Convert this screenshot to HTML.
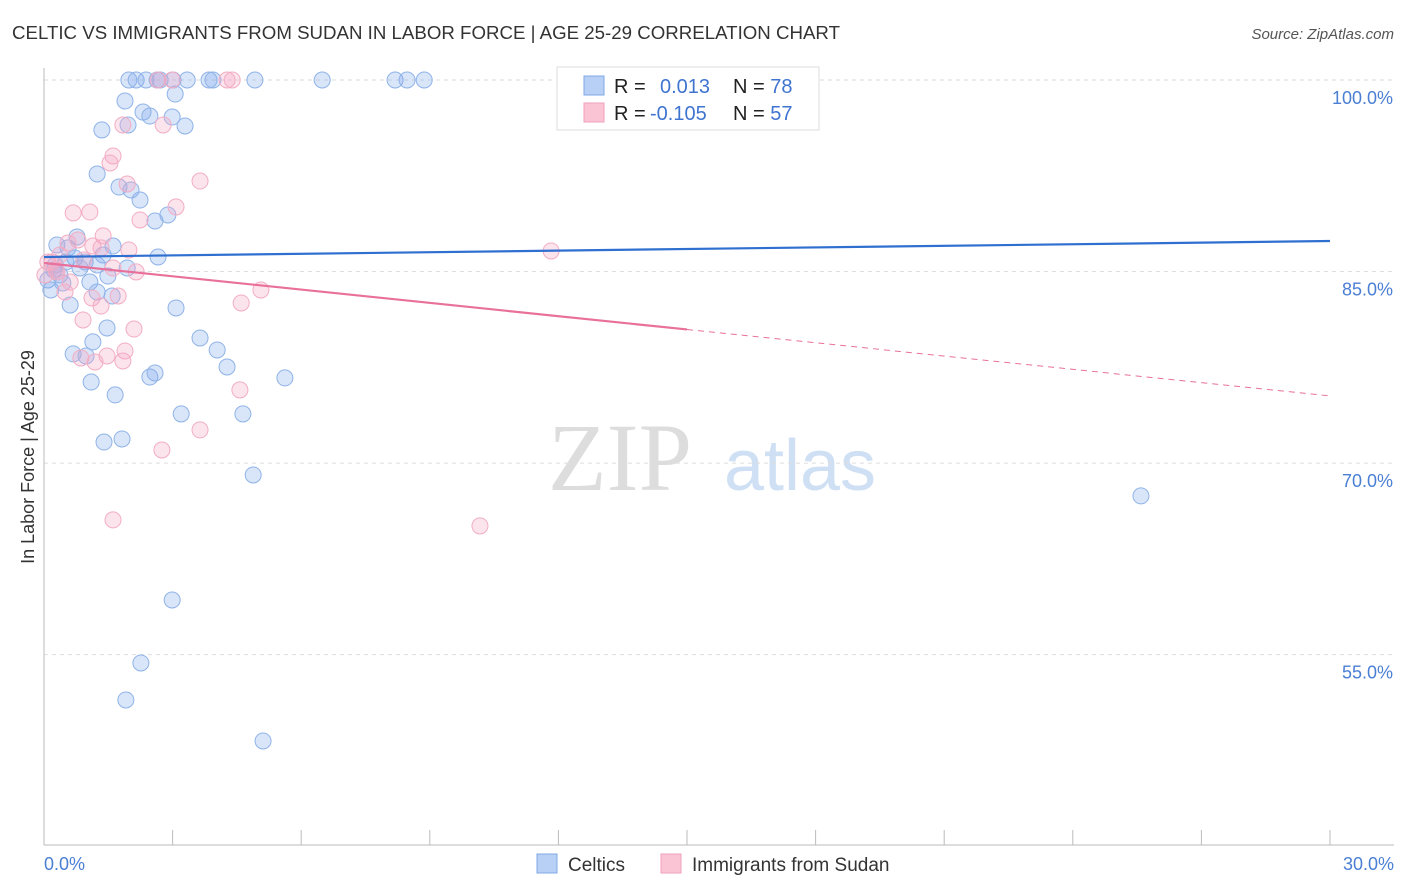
<!DOCTYPE html>
<html><head><meta charset="utf-8"><style>
body{margin:0;background:#fff;font-family:"Liberation Sans",sans-serif;}
svg{display:block}
</style></head><body>
<svg id="chart" width="1406" height="892" xmlns="http://www.w3.org/2000/svg">
<text x="12" y="39" font-size="18" fill="#333" textLength="828" lengthAdjust="spacingAndGlyphs">CELTIC VS IMMIGRANTS FROM SUDAN IN LABOR FORCE | AGE 25-29 CORRELATION CHART</text>
<text x="1394" y="39" font-size="15" fill="#555" font-style="italic" text-anchor="end">Source: ZipAtlas.com</text>
<text x="620" y="490" font-size="96" fill="#ddd" font-family="Liberation Serif" text-anchor="middle">ZIP</text>
<text x="800" y="490" font-size="72" fill="#cfe0f5" text-anchor="middle">atlas</text>
<g id="grid"></g><g id="axes"></g><g id="pts"></g><g id="lines"></g>
<text transform="translate(34,457) rotate(-90)" font-size="18" fill="#333" text-anchor="middle">In Labor Force | Age 25-29</text>
<g>
<rect x="557" y="67" width="262" height="63" fill="#fff" stroke="#ddd"/>
<rect x="584" y="76" width="20" height="19" fill="#b8d0f5" stroke="#7fa8e5"/>
<rect x="584" y="103" width="20" height="19" fill="#fbc4d4" stroke="#f0a0bb"/>
<text x="614" y="93" font-size="20" fill="#222">R = <tspan x="660" fill="#3f74d0">0.013</tspan><tspan x="733" fill="#222">N = </tspan><tspan fill="#3f74d0">78</tspan></text>
<text x="614" y="120" font-size="20" fill="#222">R = <tspan x="650" fill="#3f74d0">-0.105</tspan><tspan x="733" fill="#222">N = </tspan><tspan fill="#3f74d0">57</tspan></text>
</g>
<g>
<rect x="537" y="854" width="20" height="19" fill="#b8d0f5" stroke="#7fa8e5"/>
<text x="568" y="871" font-size="19" fill="#333">Celtics</text>
<rect x="661" y="854" width="20" height="19" fill="#fbc4d4" stroke="#f0a0bb"/>
<text x="692" y="871" font-size="19" fill="#333">Immigrants from Sudan</text>
</g>
</svg>
<script>
const yTicks=[100,85,70,55];
const yTickLabels=["100.0%","85.0%","70.0%","55.0%"];
const xTicks=[0,3,6,9,12,15,18,21,24,27,30];
const celticsX=[1.98,2.15,2.38,2.64,2.71,3.01,3.34,3.85,3.94,4.92,6.49,8.19,8.47,8.87,13.58,1.89,3.06,2.31,2.47,2.99,1.35,1.96,3.29,1.24,1.75,2.03,2.24,2.89,2.59,0.30,0.77,0.56,1.38,1.61,2.66,0.72,0.96,1.24,1.94,0.23,0.09,0.16,0.44,1.07,1.49,0.61,1.24,1.59,1.47,3.08,3.64,4.04,0.68,1.14,0.98,4.27,5.62,2.47,2.59,1.10,1.66,3.20,4.64,1.40,1.82,4.88,25.59,2.99,2.26,1.91,5.11,0.37,0.26,0.51,0.84];
const celticsY=[100,100,100,100,100,100,100,100,100,100,100,100,100,100,100,98.36,98.90,97.49,97.18,97.10,96.09,96.48,96.40,92.64,91.62,91.39,90.60,89.43,88.96,87.08,87.71,86.85,86.30,87.00,86.14,86.06,85.75,85.51,85.28,85.12,84.34,83.56,84.10,84.18,84.65,82.38,83.40,83.09,80.58,82.15,79.80,78.86,78.55,79.49,78.39,77.53,76.67,76.74,77.06,76.35,75.34,73.85,73.85,71.65,71.89,69.07,67.43,59.28,54.35,51.45,48.24,84.73,85.51,85.75,85.28];
const sudanX=[2.99,4.27,4.39,2.66,1.84,2.78,1.61,1.54,1.94,3.64,3.08,0.68,1.07,2.24,0.56,0.79,1.38,1.14,1.98,1.33,11.83,0.37,0.19,0.93,1.61,2.15,0.30,0.61,0.49,1.12,1.33,1.73,5.06,4.60,0.91,2.10,1.89,1.47,0.86,1.19,1.84,4.57,3.64,2.75,1.61,10.17,0.09,0.28,0.02];
const sudanY=[100,100,100,100,96.48,96.48,94.05,93.50,91.86,92.09,90.06,89.59,89.66,89.04,87.24,87.47,87.79,87.00,86.69,86.85,86.61,86.30,85.75,85.91,85.28,84.97,84.97,84.18,83.40,82.93,82.30,83.09,83.56,82.54,81.21,80.50,78.78,78.39,78.23,77.92,78.00,75.73,72.60,71.03,65.55,65.08,85.75,85.12,84.73];
const celticsTrend=[86.14,87.39];
const sudanTrend=[85.67,75.26];
const NS="http://www.w3.org/2000/svg";
const xs=v=>44+v/30*1286;
const ys=v=>80+(100-v)*12.77;
function mk(t,a,p){const e=document.createElementNS(NS,t);for(const k in a)e.setAttribute(k,a[k]);document.getElementById(p).appendChild(e);return e;}
yTicks.forEach((t,i)=>{
 const g=mk('line',{x1:44,x2:1394,y1:ys(t),y2:ys(t),stroke:'#ddd','stroke-dasharray':'4,4'},'grid');
 
 
 const l=mk('text',{x:1393,y:ys(t)+24,'font-size':18,fill:'#4a7fd4','text-anchor':'end'},'axes');
 l.textContent=yTickLabels[i];
 
 
});
const ax=mk('line',{x1:44,x2:44,y1:68,y2:845,stroke:'#bbb'},'axes');


const bx=mk('line',{x1:44,x2:1394,y1:845,y2:845,stroke:'#bbb'},'axes');


xTicks.forEach(t=>{
 const k=mk('line',{x1:xs(t),x2:xs(t),y1:830,y2:845,stroke:'#bbb'},'axes');
 
 
});
[[0,"0.0%",'start',44],[30,"30.0%",'end',1394]].forEach(a=>{
 const l=mk('text',{x:a[3],y:870,'font-size':18,fill:'#4a7fd4','text-anchor':a[2]},'axes');
 l.textContent=a[1];
 
 
});
celticsX.forEach((x,i)=>{
 const c=mk('circle',{cx:xs(x),cy:ys(celticsY[i]),r:8,fill:'rgba(130,170,235,0.3)',stroke:'#8fb3e8','stroke-width':1},'pts');
 
 
});
sudanX.forEach((x,i)=>{
 const c=mk('circle',{cx:xs(x),cy:ys(sudanY[i]),r:8,fill:'rgba(245,165,195,0.3)',stroke:'#f2adc3','stroke-width':1},'pts');
 
 
});
const bl=mk('line',{x1:xs(0),y1:ys(celticsTrend[0]),x2:xs(30),y2:ys(celticsTrend[1]),stroke:'#2f6fd0','stroke-width':2.2},'lines');


const pm=(sudanTrend[0]+sudanTrend[1])/2;
const ps=mk('line',{x1:xs(0),y1:ys(sudanTrend[0]),x2:xs(15),y2:ys(pm),stroke:'#e8709a','stroke-width':2.2},'lines');


const pd=mk('line',{x1:xs(15),y1:ys(pm),x2:xs(30),y2:ys(sudanTrend[1]),stroke:'#e8709a','stroke-width':1,'stroke-dasharray':'6,5'},'lines');


</script>
</body></html>
